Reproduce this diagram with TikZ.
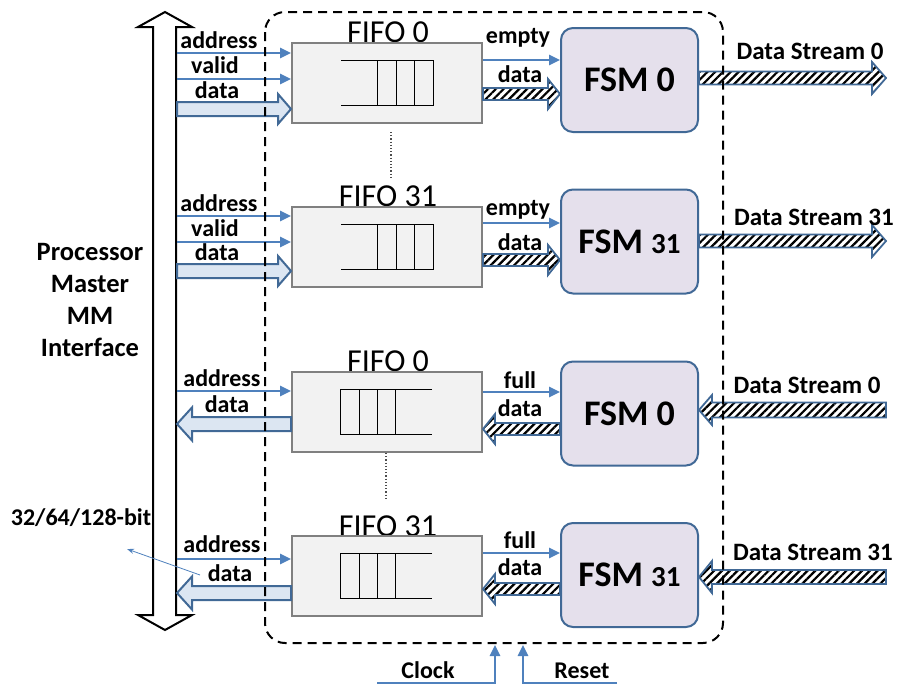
\documentclass[tikz,border=0pt]{standalone}
\usepackage{fontspec}
\setmainfont{Carlito}
\usetikzlibrary{arrows.meta,calc,patterns.meta}
\definecolor{sigblue}{RGB}{79,129,189}
\definecolor{edgeblue}{RGB}{65,105,150}
\definecolor{fatfill}{RGB}{220,230,242}
\definecolor{fsmfill}{RGB}{229,224,236}
\definecolor{fifofill}{RGB}{242,242,242}
\definecolor{fifoedge}{RGB}{128,128,128}
\tikzset{
  sig/.style={draw=sigblue, line width=2.5pt, -{Triangle[length=11pt,width=10pt]}},
  thinsig/.style={draw=sigblue, line width=0.8pt, -{Stealth[length=7pt,width=5pt]}},
  fifobox/.style={draw=fifoedge, fill=fifofill, line width=2pt, minimum width=190pt, minimum height=80pt, inner sep=0},
  fsmbox/.style={draw=edgeblue, fill=fsmfill, line width=2pt, rounded corners=12pt, minimum width=137pt, minimum height=104pt, font=\bfseries\fontsize{36}{40}\selectfont},
  fatwhite/.style={draw=edgeblue, fill=fatfill, line width=2pt},
  hatch/.style={draw=edgeblue, line width=1.8pt, preaction={fill=white}, pattern={Lines[angle=45,distance=5.5pt,line width=2.2pt]}, pattern color=black},
  lbl/.style={font=\bfseries\fontsize{24}{26}\selectfont, anchor=base, inner sep=0},
  dslbl/.style={font=\bfseries\fontsize{25}{27}\selectfont, anchor=base, inner sep=0},
  biglbl/.style={font=\bfseries\fontsize{26.5}{32}\selectfont, inner sep=0},
  fifolbl/.style={font=\fontsize{32}{34}\selectfont, anchor=base, inner sep=0},
  queue/.style={draw=black, line width=1pt},
  boundary/.style={draw=black, line width=2pt, dash pattern=on 9pt off 6pt, rounded corners=20pt},
  dotline/.style={draw=black!70, line width=1.2pt, dotted},
}
\newcommand{\fatarr}[6]{%
  \path[#1] let \p1=(#2), \p2=(#3), \n1={ifthenelse(\x2>\x1,1,-1)} in
    (\x1,\y1+#4) -- (\x2-\n1*#6,\y1+#4) -- (\x2-\n1*#6,\y1+#5) -- (\x2,\y1)
    -- (\x2-\n1*#6,\y1-#5) -- (\x2-\n1*#6,\y1-#4) -- (\x1,\y1-#4) -- cycle;}
\newcommand{\queueW}[1]{%
  \begin{scope}[shift={(#1.center)}]
    \draw[queue] (-46,-22.5) -- (46,-22.5) -- (46,22.5) -- (-46,22.5);
    \draw[queue] (-10,-22.5) -- (-10,22.5) (9,-22.5) -- (9,22.5) (27,-22.5) -- (27,22.5);
  \end{scope}}
\newcommand{\queueR}[1]{%
  \begin{scope}[shift={(#1.center)}]
    \draw[queue] (45,-22.5) -- (-47,-22.5) -- (-47,22.5) -- (45,22.5);
    \draw[queue] (-28,-22.5) -- (-28,22.5) (-10,-22.5) -- (-10,22.5) (8,-22.5) -- (8,22.5);
  \end{scope}}
\begin{document}
\begin{tikzpicture}[x=1pt,y=-1pt]
\useasboundingbox (0,0) rectangle (903,686);

% bus (double arrow)
\draw[black, line width=2pt, fill=white, line join=miter]
  (153,615) -- (153,27) -- (138,27) -- (165,12) -- (192,27) -- (176,27)
  -- (176,615) -- (192,615) -- (165,630) -- (138,615) -- cycle;
\coordinate (busR) at (177,0);

% FIFO labels
\node[fifolbl] (l0w) at (388,42) {FIFO 0};
\node[fifolbl] (l31w) at (388,206) {FIFO 31};
\node[fifolbl] (l0r) at (388,371) {FIFO 0};
\node[fifolbl] (l31r) at (388,536) {FIFO 31};

% FIFO boxes
\node[fifobox] (f0w) at (387,83) {};
\node[fifobox] (f31w) at (387,247) {};
\node[fifobox] (f0r) at (387,412) {};
\node[fifobox] (f31r) at (387,576) {};
\queueW{f0w}
\queueW{f31w}
\queueR{f0r}
\queueR{f31r}

% FSM boxes
\node[fsmbox] (m0w) at (629.5,80) {FSM 0};
\node[fsmbox] (m31w) at (629.5,241.5) {FSM {\fontsize{29}{32}\selectfont 31}};
\node[fsmbox] (m0r) at (629.5,413.5) {FSM 0};
\node[fsmbox] (m31r) at (629.5,575) {FSM {\fontsize{29}{32}\selectfont 31}};

% dotted continuation lines
\draw[dotline] (391,132) -- (391,178);
\draw[dotline] (386,453) -- (386,500);

% ---- write side, FIFO 0
\draw[sig] (busR |- 0,53) -- (f0w.west |- 0,53);
\draw[sig] (busR |- 0,79) -- (f0w.west |- 0,79);
\fatarr{fatwhite}{busR |- 0,109}{f0w.west |- 0,109}{7pt}{15pt}{13pt}
\draw[sig] (f0w.east |- 0,60) -- (m0w.west |- 0,60);
\fatarr{hatch}{f0w.east |- 0,94}{m0w.west |- 0,94}{6pt}{15pt}{12pt}
\coordinate (ds0o) at (886,78);
\fatarr{hatch}{m0w.east |- 0,78}{ds0o}{6.5pt}{16pt}{14pt}

% ---- write side, FIFO 31
\draw[sig] (busR |- 0,216) -- (f31w.west |- 0,216);
\draw[sig] (busR |- 0,242) -- (f31w.west |- 0,242);
\fatarr{fatwhite}{busR |- 0,271}{f31w.west |- 0,271}{7pt}{15pt}{13pt}
\draw[sig] (f31w.east |- 0,223) -- (m31w.west |- 0,223);
\fatarr{hatch}{f31w.east |- 0,260}{m31w.west |- 0,260}{6pt}{15pt}{12pt}
\coordinate (ds31o) at (886,241);
\fatarr{hatch}{m31w.east |- 0,241}{ds31o}{6.5pt}{16pt}{14pt}

% ---- read side, FIFO 0
\draw[sig] (busR |- 0,391) -- (f0r.west |- 0,391);
\fatarr{fatwhite}{f0r.west |- 0,424}{busR |- 0,424}{7pt}{16.5pt}{15pt}
\draw[sig] (f0r.east |- 0,392) -- (m0r.west |- 0,392);
\fatarr{hatch}{m0r.west |- 0,429}{f0r.east |- 0,429}{6pt}{15pt}{12pt}
\coordinate (ds0i) at (886,410);
\fatarr{hatch}{ds0i}{m0r.east |- 0,410}{7.5pt}{15pt}{13pt}

% ---- read side, FIFO 31
\draw[sig] (busR |- 0,559) -- (f31r.west |- 0,559);
\fatarr{fatwhite}{f31r.west |- 0,593}{busR |- 0,593}{7pt}{16.5pt}{15pt}
\draw[sig] (f31r.east |- 0,553) -- (m31r.west |- 0,553);
\fatarr{hatch}{m31r.west |- 0,589}{f31r.east |- 0,589}{6pt}{15pt}{12pt}
\coordinate (ds31i) at (886,577);
\fatarr{hatch}{ds31i}{m31r.east |- 0,577}{7pt}{16pt}{13pt}

% boundary
\draw[boundary] (265,12) rectangle (723,643);

% clock / reset
\coordinate (clkA) at (377,683);
\coordinate (clkB) at (495,645);
\coordinate (rstA) at (617,683);
\coordinate (rstB) at (523,645);
\draw[sig] (clkA) -| (clkB);
\draw[sig] (rstA) -| (rstB);

% width annotation arrow
\coordinate (bwA) at (200,575);
\coordinate (bwB) at (127,549);
\draw[thinsig] (bwA) -- (bwB);

% labels
\node[lbl] (t1) at (219,48) {address};
\node[lbl] (t2) at (215,73) {valid};
\node[lbl] (t3) at (217,98) {data};
\node[lbl] (t4) at (219,211) {address};
\node[lbl] (t5) at (215,236) {valid};
\node[lbl] (t6) at (217,260) {data};
\node[lbl] (t7) at (222,386) {address};
\node[lbl] (t8) at (227,412) {data};
\node[lbl] (t9) at (222,552) {address};
\node[lbl] (t10) at (230,581) {data};

\node[lbl] (e1) at (518,43) {empty};
\node[lbl] (e2) at (520,82) {data};
\node[lbl] (e3) at (518,215) {empty};
\node[lbl] (e4) at (520,250) {data};
\node[lbl] (e5) at (520,388) {full};
\node[lbl] (e6) at (520,416) {data};
\node[lbl] (e7) at (520,548) {full};
\node[lbl] (e8) at (520,575) {data};

\node[dslbl] (s1) at (810,59) {Data Stream 0};
\node[dslbl] (s2) at (814,225) {Data Stream 31};
\node[dslbl] (s3) at (807,393) {Data Stream 0};
\node[dslbl] (s4) at (813,560) {Data Stream 31};

\node[lbl] (ck) at (428,678) {Clock};
\node[lbl] (rs) at (582,678) {Reset};
\node[lbl] (bw) at (81,525) {32/64/128-bit};

\node[biglbl, align=center] (proc) at (90,300) {Processor\\Master\\MM\\Interface};
\end{tikzpicture}
\end{document}
